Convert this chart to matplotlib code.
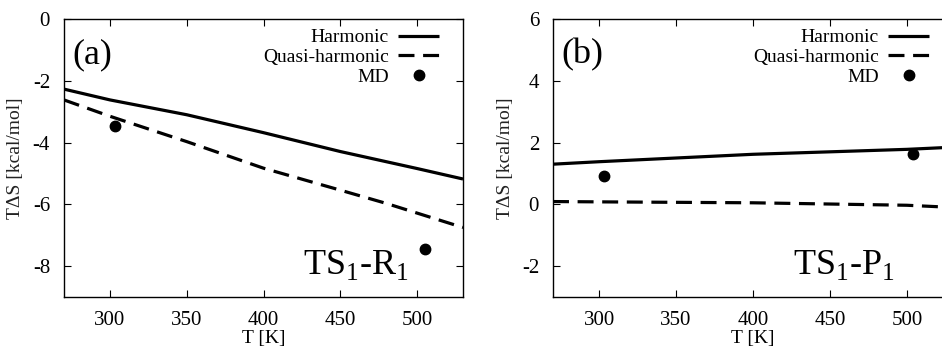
import matplotlib
matplotlib.use("Agg")
import matplotlib.pyplot as plt

plt.rcParams['font.family'] = ['Liberation Serif', 'DejaVu Serif']
plt.rcParams['mathtext.fontset'] = 'custom'
plt.rcParams['mathtext.rm'] = 'Liberation Serif'
plt.rcParams['axes.unicode_minus'] = False

# Panel (a): TS1-R1
Ta_harm = [270, 300, 350, 400, 450, 500, 530]
Sa_harm = [-2.27, -2.62, -3.10, -3.68, -4.29, -4.84, -5.18]
Ta_quasi = [270, 300, 350, 400, 450, 480, 530]
Sa_quasi = [-2.62, -3.15, -3.97, -4.83, -5.54, -5.97, -6.75]
Ta_md = [303, 505]
Sa_md = [-3.46, -7.43]

# Panel (b): TS1-P1
Tb_harm = [270, 300, 400, 500, 530]
Sb_harm = [1.30, 1.38, 1.62, 1.78, 1.85]
Tb_quasi = [270, 300, 400, 500, 530]
Sb_quasi = [0.09, 0.08, 0.05, -0.03, -0.10]
Tb_md = [303, 504]
Sb_md = [0.92, 1.62]

xticks = [300, 350, 400, 450, 500]
yticks_a = [0, -2, -4, -6, -8]
yticks_b = [-2, 0, 2, 4, 6]

W, H = 942, 347
fig = plt.figure(figsize=(W / 100, H / 100), dpi=100)

def make_axes(l, r, t, b):
    return fig.add_axes([l / W, 1 - b / H, (r - l) / W, (b - t) / H])

ax_a = make_axes(64, 463, 19, 297)
ax_b = make_axes(553, 953, 19, 297)

panels = [
    (ax_a, Ta_harm, Sa_harm, Ta_quasi, Sa_quasi, Ta_md, Sa_md, (-9, 0), yticks_a,
     '(a)', r'TS$_1$-R$_1$', 0.96),
    (ax_b, Tb_harm, Sb_harm, Tb_quasi, Sb_quasi, Tb_md, Sb_md, (-3, 6), yticks_b,
     '(b)', r'TS$_1$-P$_1$', 0.96),
]

for ax, th, sh, tq, sq, tm, sm, ylim, yt, tag, name, lx in panels:
    ax.plot(th, sh, color='black', lw=2.3, label='Harmonic', solid_capstyle='butt')
    ax.plot(tq, sq, color='black', lw=2.3, dashes=(5, 2.7), label='Quasi-harmonic')
    ax.plot(tm, sm, 'o', color='black', ms=7.5, label='MD')
    ax.set_xlim(270, 530)
    ax.set_ylim(*ylim)
    ax.set_xticks(xticks)
    ax.set_yticks(yt)
    ax.tick_params(axis='x', direction='in', top=True, length=5, width=0.8,
                   labelsize=15, pad=10)
    ax.tick_params(axis='y', direction='in', right=True, length=5, width=0.8,
                   labelsize=15, pad=10)
    for s in ax.spines.values():
        s.set_linewidth(1.0)
    ax.set_xlabel('T [K]', fontsize=14, labelpad=0)
    ax.set_ylabel('TΔS [kcal/mol]', fontsize=14, labelpad=6, color='#222222')
    ax.text(0.02, 0.87, tag, transform=ax.transAxes, fontsize=26, ha='left', va='center')
    ax.text(0.60, 0.115, name, transform=ax.transAxes, fontsize=26, ha='left', va='center')
    ax.legend(loc='upper right', frameon=False, markerfirst=False, fontsize=14,
              handlelength=2.1, handletextpad=0.5, labelspacing=0.12,
              borderaxespad=0.0, bbox_to_anchor=(lx, 0.993))

fig.savefig('out.png', dpi=100)
